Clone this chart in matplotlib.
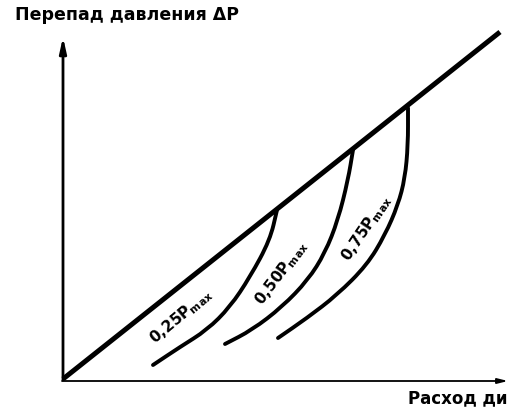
import matplotlib
matplotlib.use("Agg")
import matplotlib.pyplot as plt
from matplotlib.path import Path
from matplotlib.patches import PathPatch

# Diagonal (system characteristic)
diag_x = [0, 437]
diag_y = [0, 347]

# Curves (flow, pressure drop), arbitrary units
curve1_x = [214, 207, 187, 167, 144, 117, 90]
curve1_y = [169, 139, 102, 72, 49, 32, 14]
curve2_x = [290, 285, 275, 262, 245, 219, 189, 162]
curve2_y = [229, 199, 159, 126, 99, 72, 49, 35]
curve3_x = [345, 345, 342, 335, 322, 304, 274, 244, 215]
curve3_y = [271, 234, 201, 174, 144, 114, 84, 61, 41]

curve_labels = ["0,25P", "0,50P", "0,75P"]
y_label = "Перепад давления ΔP"
x_label = "Расход ди"

fig = plt.figure(figsize=(5.10, 4.12), dpi=100)
ax = fig.add_axes([0, 0, 1, 1])
ax.set_xlim(-63, 447)
ax.set_ylim(-33, 379)
ax.axis("off")

# axes arrows
ax.annotate("", xy=(0, 342), xytext=(0, -1),
            arrowprops=dict(arrowstyle="-|>,head_length=0.9,head_width=0.2",
                            lw=2.0, color="black", shrinkA=0, shrinkB=0))
ax.annotate("", xy=(445, -2), xytext=(-1, -2),
            arrowprops=dict(arrowstyle="-|>,head_length=0.6,head_width=0.15",
                            lw=1.3, color="black", shrinkA=0, shrinkB=0))

ax.plot(diag_x, diag_y, color="black", lw=3.6, solid_capstyle="butt")


def smooth_path(xs, ys):
    pts = list(zip(xs, ys))
    verts = [pts[0]]
    codes = [Path.MOVETO]
    mid = lambda a, b: ((a[0] + b[0]) / 2, (a[1] + b[1]) / 2)
    verts.append(mid(pts[0], pts[1]))
    codes.append(Path.LINETO)
    for i in range(1, len(pts) - 1):
        verts += [pts[i], mid(pts[i], pts[i + 1])]
        codes += [Path.CURVE3, Path.CURVE3]
    verts.append(pts[-1])
    codes.append(Path.LINETO)
    return Path(verts, codes)


for cx, cy in [(curve1_x, curve1_y), (curve2_x, curve2_y), (curve3_x, curve3_y)]:
    ax.add_patch(PathPatch(smooth_path(cx, cy), fill=False, lw=2.8,
                           edgecolor="black", capstyle="round"))

# curve labels
label_pos = [(118, 63), (218, 106), (303, 151)]
label_rot = [40, 53, 56]
for (lx, ly), rot, txt in zip(label_pos, label_rot, curve_labels):
    ax.text(lx, ly, txt + r"$_{\mathbf{max}}$", rotation=rot, rotation_mode="anchor",
            ha="center", va="center", fontsize=11, fontweight="bold")

fig.text(15 / 510, 1 - 15 / 412, y_label, ha="left", va="center",
         fontsize=12.5, fontweight="bold")
fig.text(408 / 510, 1 - 398 / 412, x_label, ha="left", va="center",
         fontsize=12, fontweight="bold")

fig.savefig("out.png", dpi=100)
